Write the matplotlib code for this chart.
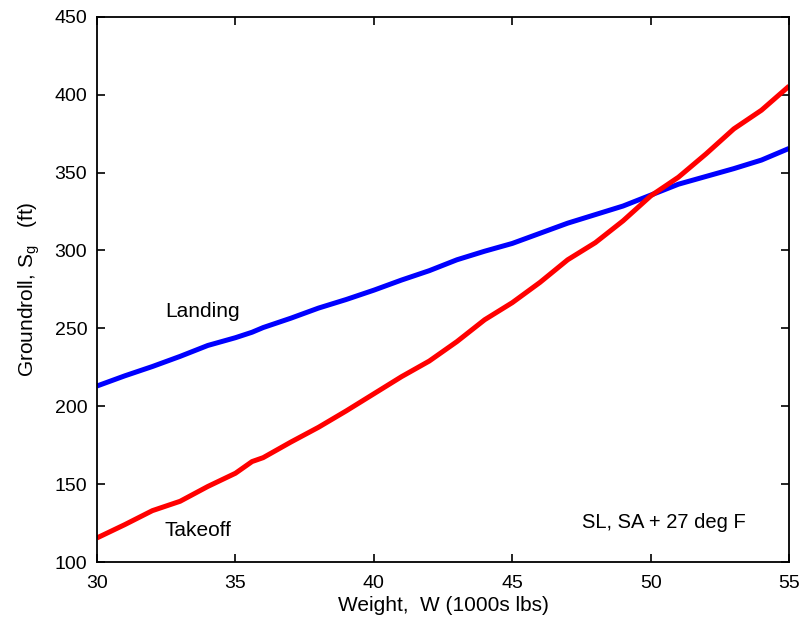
import matplotlib
matplotlib.use('Agg')
import matplotlib.pyplot as plt

# Weight (1000s lbs)
weight = [30, 31, 32, 33, 34, 35, 35.6, 36, 37, 38, 39, 40, 41, 42, 43, 44, 45,
          46, 47, 48, 49, 50, 51, 52, 53, 54, 55]

# Groundroll (ft)
landing = [213, 219.5, 225.5, 232, 239, 244, 247.5, 250.5, 256.5, 263, 268.5, 274.5,
           281, 287, 294, 299.5, 304.5, 311, 317.5, 323, 328.5, 335.5, 342.5, 347.5,
           352.5, 358, 365.5]
takeoff = [115.5, 124, 133, 139, 148.5, 157, 164.5, 167, 177, 186.5, 197, 208,
           219, 229, 241.5, 255.5, 266.5, 279.5, 294, 305, 319, 335, 347, 362,
           378, 390, 405.5]

plt.rcParams['font.family'] = ['Liberation Sans', 'DejaVu Sans']
plt.rcParams['mathtext.fontset'] = 'custom'
plt.rcParams['mathtext.rm'] = 'Liberation Sans'

fig = plt.figure(figsize=(8.02, 6.19), dpi=100)
ax = fig.add_axes([0.121, 0.092, 0.863, 0.881])

ax.plot(weight, landing, color='#0000ff', linewidth=3.6, solid_capstyle='butt')
ax.plot(weight, takeoff, color='#ff0000', linewidth=3.6, solid_capstyle='butt')

ax.set_xlim(30, 55)
ax.set_ylim(100, 450)
ax.set_xticks([30, 35, 40, 45, 50, 55])
ax.set_yticks([100, 150, 200, 250, 300, 350, 400, 450])
ax.tick_params(axis='x', pad=9)
ax.tick_params(direction='in', length=6, width=1.2, labelsize=14,
               top=True, right=True, colors='black')
ax.tick_params(axis='y', pad=7)
for s in ax.spines.values():
    s.set_linewidth(1.3)

ax.set_xlabel('Weight,  W (1000s lbs)', fontsize=15, labelpad=3)
ax.set_ylabel(r'Groundroll, S$_\mathregular{g}$   (ft)', fontsize=15, labelpad=9)

ax.text(32.45, 261, 'Landing', fontsize=15, va='center', ha='left')
ax.text(32.45, 120, 'Takeoff', fontsize=15, va='center', ha='left')
ax.text(47.5, 125.5, 'SL, SA + 27 deg F', fontsize=14.5, va='center', ha='left')

fig.savefig('out.png', dpi=100)
plt.close(fig)
